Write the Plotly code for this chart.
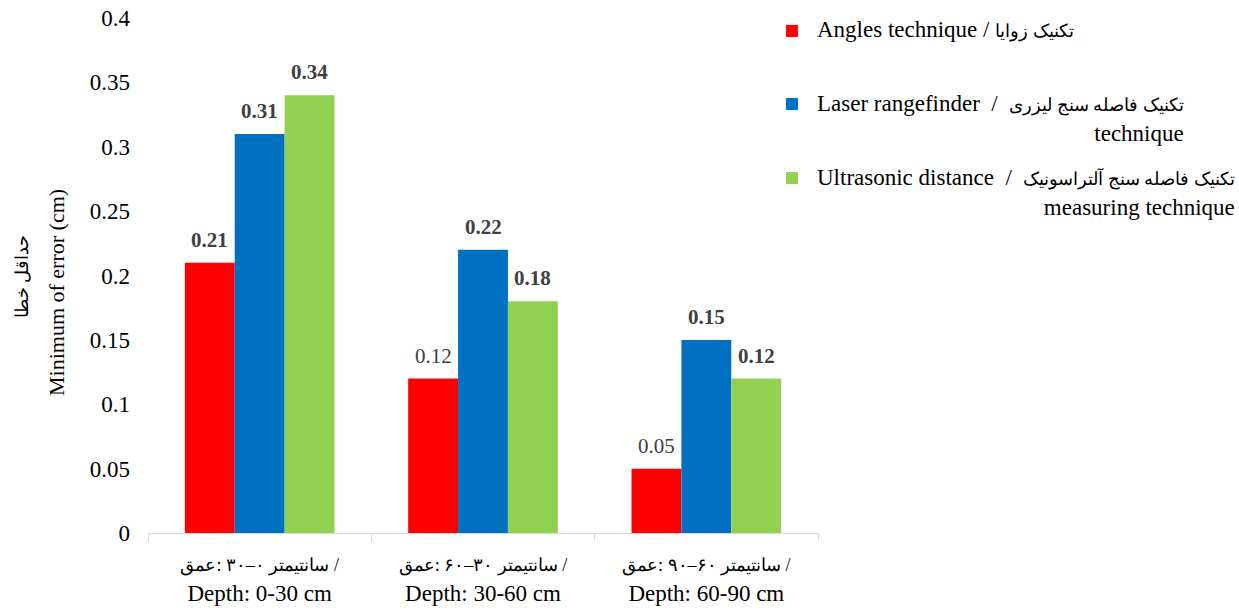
import plotly.graph_objects as go

LRM = "\u200e"
FA = '<span style="font-size:18px">{}</span>'

# Category labels (Persian line shown first, English second)
fa_depths = ["۳۰–۰", "۶۰–۳۰", "۹۰–۶۰"]
en_depths = ["Depth: 0-30 cm", "Depth: 30-60 cm", "Depth: 60-90 cm"]
categories = [
    FA.format(f"{LRM}عمق:{LRM} {d} {LRM}سانتیمتر{LRM} /") + f"<br>{e}"
    for d, e in zip(fa_depths, en_depths)
]

series_en = ["Angles technique", "Laser rangefinder", "Ultrasonic distance"]
series_fa = ["تکنیک زوایا", "تکنیک فاصله سنج لیزری", "تکنیک فاصله سنج آلتراسونیک"]
series_second_lines = ["", "technique", "measuring technique"]
angles = [0.21, 0.12, 0.05]
laser = [0.31, 0.22, 0.15]
ultrasonic = [0.34, 0.18, 0.12]
series_values = [angles, laser, ultrasonic]
bold_labels = [
    [True, False, False],
    [True, True, True],
    [True, True, True],
]
colors = ["#FF0000", "#0070C0", "#92D050"]

y_ticks = [0, 0.05, 0.1, 0.15, 0.2, 0.25, 0.3, 0.35, 0.4]
y_title_fa = "حداقل خطا"
y_title_en = "Minimum of error (cm)"

FONT = "Liberation Serif, Times New Roman, serif"
BARGAP = 0.33
n_series = len(series_values)
bar_w = (1 - BARGAP) / n_series

fig = go.Figure()
for i, (en, fa, vals, col) in enumerate(zip(series_en, series_fa, series_values, colors)):
    fig.add_trace(go.Bar(
        x=categories, y=vals, name=f"{en} / {fa}",
        marker=dict(color=col, line=dict(width=0)),
        showlegend=False, hoverinfo="x+y+name",
    ))
    # value labels above each bar (category index + group offset on the category axis)
    for j, (v, b) in enumerate(zip(vals, bold_labels[i])):
        fig.add_annotation(
            x=j + (i - (n_series - 1) / 2) * bar_w, y=v, xref="x", yref="y",
            text=f"<b>{v:g}</b>" if b else f"{v:g}", showarrow=False,
            yanchor="bottom", yshift=9,
            font=dict(family=FONT, size=21, color="#404040"),
        )

# Legend drawn as annotations (wrapped, right-aligned second lines like the original)
legend_top = [1.0058, 0.862, 0.7184]
legend_sq = [0.9748, 0.833, 0.6893]
for i, (en, fa, second, col) in enumerate(zip(series_en, series_fa, series_second_lines, colors)):
    sep = " / " if i == 0 else "  /  "
    txt = f"{en}{sep}{FA.format(fa)}"
    if second:
        txt += f"<br>{second}"
    fig.add_annotation(text=txt, xref="paper", yref="paper", x=0.9955, y=legend_top[i],
                       xanchor="left", yanchor="top", align="right", showarrow=False,
                       font=dict(family=FONT, size=23, color="#000000"))
    fig.add_shape(type="rect", xref="paper", yref="paper",
                  x0=0.9522, x1=0.9701, y0=legend_sq[i] - 0.0117, y1=legend_sq[i] + 0.0117,
                  fillcolor=col, line=dict(width=0))

# Y-axis title (two separately placed rotated lines, as in the original)
fig.add_annotation(text=FA.format(y_title_fa), xref="paper", yref="paper",
                   x=-0.188, y=0.499, textangle=-90, showarrow=False,
                   xanchor="center", yanchor="middle",
                   font=dict(family=FONT, size=23, color="#000000"))
fig.add_annotation(text=y_title_en, xref="paper", yref="paper",
                   x=-0.1373, y=0.466, textangle=-90, showarrow=False,
                   xanchor="center", yanchor="middle",
                   font=dict(family=FONT, size=22, color="#000000"))

fig.update_layout(
    width=1239, height=612,
    margin=dict(l=148, r=421, t=18, b=79, autoexpand=False),
    paper_bgcolor="white", plot_bgcolor="white",
    barmode="group", bargap=BARGAP, bargroupgap=0,
    font=dict(family=FONT, size=23, color="#000000"),
    showlegend=False,
    xaxis=dict(
        type="category", showline=True, linecolor="#D9D9D9", linewidth=1.3,
        ticks="outside", tickson="boundaries", ticklen=7, tickcolor="#D9D9D9",
        tickangle=0, automargin=False, ticklabelstandoff=9,
        tickfont=dict(family=FONT, size=23, color="#000000"),
        showgrid=False, zeroline=False,
    ),
    yaxis=dict(
        range=[0, 0.4], tickvals=y_ticks, ticktext=[f"{t:g}" for t in y_ticks],
        showgrid=False, zeroline=False, showline=False, ticks="",
        ticklabelstandoff=17, automargin=False,
        tickfont=dict(family=FONT, size=23, color="#000000"),
    ),
)

fig.write_html("out.html", config={"displayModeBar": False},
               post_script="document.body.style.margin='0';")
